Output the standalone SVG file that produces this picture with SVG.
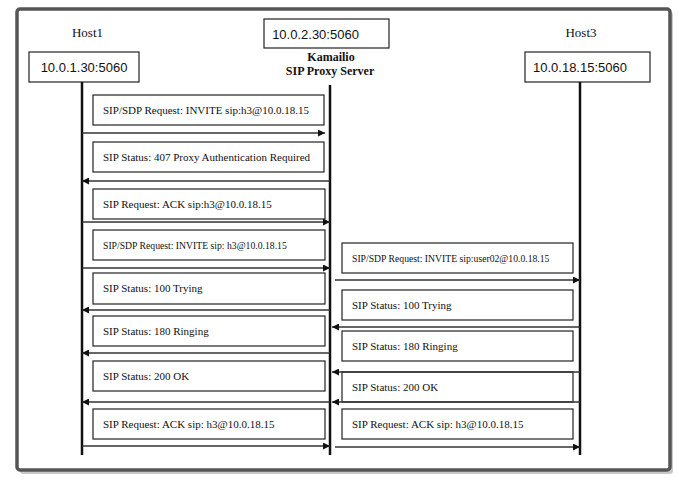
<svg xmlns="http://www.w3.org/2000/svg" width="678" height="482" viewBox="0 0 678 482">
<style>
.ser{font-family:"Liberation Serif","Times New Roman",serif;fill:#111}
.san{font-family:"Liberation Sans",Arial,sans-serif;fill:#111}
.host{font-size:13px}
.ip{font-size:13px}
.msg{font-size:11px}
.sm{font-size:9.7px}
.box{fill:#fff;stroke:#222;stroke-width:1.2}
.life{stroke:#111;stroke-width:2.5}
.arr{stroke:#333;stroke-width:1.5;fill:none}
</style>
<defs>
<marker id="ah" viewBox="0 0 10 10" refX="10" refY="5" markerWidth="9" markerHeight="7" markerUnits="userSpaceOnUse" orient="auto">
<path d="M0,0 L10,5 L0,10 Z" fill="#111"/>
</marker>
</defs>
<rect width="678" height="482" fill="#fff"/>
<g id="frame">
<rect x="20" y="12" width="653" height="462" rx="3" fill="#c8c8c8"/>
<rect x="17" y="9" width="653" height="461" rx="3" fill="#fff" stroke="#555" stroke-width="3.5"/>
</g>
<g id="host1">
<text class="ser host" x="87.5" y="37" text-anchor="middle">Host1</text>
<rect class="box" x="29" y="52" width="110" height="30"/>
<text class="san ip" x="84" y="72" text-anchor="middle">10.0.1.30:5060</text>
<line class="life" x1="82" y1="82" x2="82" y2="455"/>
</g>
<g id="proxy">
<rect class="box" x="264" y="19" width="125" height="29"/>
<text class="san ip" x="315.5" y="39" text-anchor="middle">10.0.2.30:5060</text>
<text class="ser" x="331" y="61" text-anchor="middle" font-size="12" font-weight="bold">Kamailio</text>
<text class="ser" x="330" y="75" text-anchor="middle" font-size="12" font-weight="bold">SIP Proxy Server</text>
<line class="life" x1="330" y1="85" x2="330" y2="455"/>
</g>
<g id="host3">
<text class="ser host" x="581" y="37" text-anchor="middle">Host3</text>
<rect class="box" x="525" y="52" width="125" height="30"/>
<text class="san ip" x="580" y="72" text-anchor="middle">10.0.18.15:5060</text>
<line class="life" x1="580" y1="82" x2="580" y2="455"/>
</g>
<g id="m1"><rect class="box" x="93" y="95" width="231" height="30"/><text class="ser msg" x="103" y="114">SIP/SDP Request: INVITE sip:h3@10.0.18.15</text></g>
<g id="m2"><rect class="box" x="93" y="142" width="231" height="30"/><text class="ser msg" x="103" y="161">SIP Status: 407 Proxy Authentication Required</text></g>
<g id="m3"><rect class="box" x="93" y="189" width="232" height="30"/><text class="ser msg" x="103" y="208">SIP Request: ACK sip:h3@10.0.18.15</text></g>
<g id="m4"><rect class="box" x="93" y="230" width="232" height="30"/><text class="ser sm" x="103" y="249">SIP/SDP Request: INVITE sip: h3@10.0.18.15</text></g>
<g id="m5"><rect class="box" x="93" y="273" width="232" height="31"/><text class="ser msg" x="103" y="292">SIP Status: 100 Trying</text></g>
<g id="m6"><rect class="box" x="93" y="316" width="232" height="30"/><text class="ser msg" x="103" y="335">SIP Status: 180 Ringing</text></g>
<g id="m7"><rect class="box" x="93" y="361" width="232" height="30"/><text class="ser msg" x="103" y="380">SIP Status: 200 OK</text></g>
<g id="m8"><rect class="box" x="93" y="409" width="232" height="30"/><text class="ser msg" x="103" y="428">SIP Request: ACK sip: h3@10.0.18.15</text></g>
<g id="r1"><rect class="box" x="342" y="243" width="231" height="30"/><text class="ser sm" x="352" y="262">SIP/SDP Request: INVITE sip:user02@10.0.18.15</text></g>
<g id="r2"><rect class="box" x="342" y="290" width="231" height="30"/><text class="ser msg" x="352" y="309">SIP Status: 100 Trying</text></g>
<g id="r3"><rect class="box" x="342" y="331" width="231" height="30"/><text class="ser msg" x="352" y="350">SIP Status: 180 Ringing</text></g>
<g id="r4"><rect class="box" x="342" y="372" width="231" height="30"/><text class="ser msg" x="352" y="391">SIP Status: 200 OK</text></g>
<g id="r5"><rect class="box" x="342" y="409" width="231" height="30"/><text class="ser msg" x="352" y="428">SIP Request: ACK sip: h3@10.0.18.15</text></g>
<g id="connectors">
<line class="arr" x1="82" y1="133" x2="325" y2="133" marker-end="url(#ah)"/>
<line class="arr" x1="330" y1="181" x2="82" y2="181" marker-end="url(#ah)"/>
<line class="arr" x1="82" y1="222" x2="330" y2="222" marker-end="url(#ah)"/>
<line class="arr" x1="82" y1="268" x2="330" y2="268" marker-end="url(#ah)"/>
<line class="arr" x1="330" y1="310" x2="82" y2="310" marker-end="url(#ah)"/>
<line class="arr" x1="330" y1="353" x2="82" y2="353" marker-end="url(#ah)"/>
<line class="arr" x1="330" y1="402" x2="82" y2="402" marker-end="url(#ah)"/>
<line class="arr" x1="82" y1="446" x2="330" y2="446" marker-end="url(#ah)"/>
<line class="arr" x1="335" y1="280" x2="580" y2="280" marker-end="url(#ah)"/>
<line class="arr" x1="580" y1="327" x2="332" y2="327" marker-end="url(#ah)"/>
<line class="arr" x1="580" y1="372" x2="332" y2="372" marker-end="url(#ah)"/>
<line class="arr" x1="580" y1="402" x2="332" y2="402" marker-end="url(#ah)"/>
<line class="arr" x1="335" y1="447" x2="580" y2="447" marker-end="url(#ah)"/>
</g>
</svg>
